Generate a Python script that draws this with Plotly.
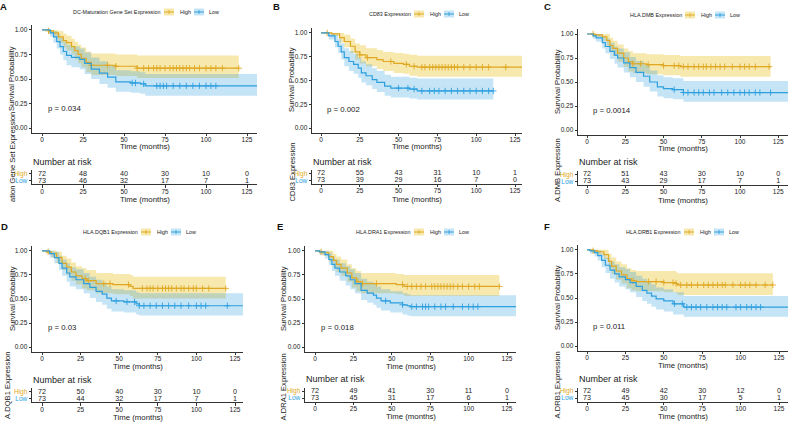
import plotly.graph_objects as go

W, H = 790, 423
FONT = "Liberation Sans, Arial, sans-serif"
HIGH_COL = "#E0A823"
LOW_COL = "#2E9FDF"
HIGH_FILL = "rgba(231,184,0,0.32)"
LOW_FILL = "rgba(46,159,223,0.28)"

time_ticks = [0, 25, 50, 75, 100, 125]
surv_ticks = [0.0, 0.25, 0.5, 0.75, 1.0]
surv_tick_labels = ["0.00", "0.25", "0.50", "0.75", "1.00"]
group_labels = ["High", "Low"]

panel_letters = ["A", "B", "C", "D", "E", "F"]
legend_titles = ["DC-Maturation Gene Set Expression", "CD83 Expression", "HLA.DMB Expression",
                 "HLA.DQB1 Expression", "HLA.DRA1 Expression", "HLA.DRB1 Expression"]
risk_axis_titles = ["ation Gene Set Expression", "CD83 Expression", "A.DMB Expression",
                    "A.DQB1 Expression", "A.DRA1 Expression", "A.DRB1 Expression"]
p_values = ["p = 0.034", "p = 0.002", "p = 0.0014", "p = 0.03", "p = 0.018", "p = 0.011"]

# ---------------- Panel A ----------------
a_high_time = [0, 4, 7, 10, 13, 15, 18, 20, 22, 24, 27, 30, 45, 58, 120]
a_high_surv = [1.00, 0.99, 0.97, 0.93, 0.89, 0.87, 0.83, 0.79, 0.75, 0.71, 0.67, 0.64, 0.63, 0.61, 0.61]
a_high_upper = [1.00, 1.00, 1.00, 0.99, 0.96, 0.94, 0.91, 0.88, 0.85, 0.82, 0.78, 0.76, 0.75, 0.74, 0.74]
a_high_lower = [1.00, 0.96, 0.93, 0.87, 0.82, 0.79, 0.75, 0.70, 0.66, 0.62, 0.57, 0.54, 0.53, 0.51, 0.51]
a_high_censor = [4, 30, 40, 45, 58, 62, 65, 68, 70, 72, 75, 78, 80, 82, 84, 86, 88, 90, 93, 96, 100, 103, 106, 110, 120]
a_low_time = [0, 5, 7, 9, 11, 13, 15, 18, 23, 26, 30, 35, 40, 45, 54, 60, 63, 133]
a_low_surv = [1.00, 0.97, 0.93, 0.88, 0.83, 0.78, 0.74, 0.72, 0.70, 0.66, 0.60, 0.56, 0.52, 0.47, 0.46, 0.45, 0.43, 0.43]
a_low_upper = [1.00, 1.00, 0.99, 0.96, 0.92, 0.88, 0.85, 0.83, 0.81, 0.77, 0.72, 0.68, 0.64, 0.59, 0.58, 0.57, 0.55, 0.55]
a_low_lower = [1.00, 0.93, 0.87, 0.81, 0.75, 0.69, 0.64, 0.62, 0.60, 0.55, 0.50, 0.45, 0.41, 0.37, 0.36, 0.35, 0.33, 0.33]
a_low_censor = [55, 57, 62, 70, 72, 74, 76, 80, 84, 88, 92, 96, 100, 103, 106]
a_risk_high = [72, 48, 40, 30, 10, 0]
a_risk_low = [73, 46, 32, 17, 7, 1]

# ---------------- Panel B ----------------
b_high_time = [0, 7, 12, 15, 19, 22, 25, 29, 36, 40, 47, 53, 57, 62, 133]
b_high_surv = [1.00, 0.99, 0.95, 0.91, 0.86, 0.80, 0.77, 0.74, 0.72, 0.70, 0.68, 0.67, 0.65, 0.64, 0.64]
b_high_upper = [1.00, 1.00, 1.00, 0.98, 0.94, 0.89, 0.87, 0.84, 0.82, 0.80, 0.79, 0.78, 0.77, 0.76, 0.76]
b_high_lower = [1.00, 0.97, 0.90, 0.85, 0.79, 0.72, 0.68, 0.65, 0.62, 0.60, 0.58, 0.57, 0.55, 0.54, 0.54]
b_high_censor = [4, 25, 30, 45, 55, 60, 65, 67, 70, 72, 74, 76, 78, 80, 82, 84, 86, 88, 92, 96, 100, 104, 108, 119]
b_low_time = [0, 5, 9, 11, 13, 15, 18, 21, 24, 26, 29, 33, 36, 41, 45, 57, 62, 111]
b_low_surv = [1.00, 0.97, 0.91, 0.86, 0.80, 0.74, 0.70, 0.67, 0.63, 0.58, 0.55, 0.51, 0.48, 0.44, 0.42, 0.41, 0.39, 0.39]
b_low_upper = [1.00, 1.00, 0.98, 0.94, 0.89, 0.84, 0.81, 0.78, 0.74, 0.70, 0.67, 0.63, 0.60, 0.56, 0.54, 0.53, 0.52, 0.52]
b_low_lower = [1.00, 0.93, 0.85, 0.79, 0.72, 0.65, 0.60, 0.57, 0.53, 0.48, 0.45, 0.41, 0.38, 0.34, 0.32, 0.31, 0.30, 0.30]
b_low_censor = [50, 56, 60, 65, 70, 73, 76, 80, 84, 88, 92, 96, 100, 104, 108, 111]
b_risk_high = [72, 55, 43, 31, 10, 1]
b_risk_low = [73, 39, 29, 16, 7, 0]

# ---------------- Panel C ----------------
c_high_time = [0, 5, 10, 13, 15, 17, 20, 24, 27, 30, 39, 50, 61, 120]
c_high_surv = [1.00, 0.99, 0.97, 0.93, 0.88, 0.85, 0.80, 0.75, 0.71, 0.69, 0.68, 0.67, 0.66, 0.66]
c_high_upper = [1.00, 1.00, 1.00, 1.00, 0.96, 0.93, 0.89, 0.85, 0.82, 0.80, 0.79, 0.78, 0.77, 0.77]
c_high_lower = [1.00, 0.97, 0.93, 0.87, 0.81, 0.77, 0.71, 0.66, 0.61, 0.59, 0.58, 0.57, 0.555, 0.555]
c_high_censor = [4, 30, 35, 40, 50, 57, 60, 63, 66, 70, 73, 76, 78, 81, 84, 87, 90, 95, 100, 103, 106, 110, 119]
c_low_time = [0, 4, 6, 10, 12, 15, 18, 20, 24, 28, 32, 37, 41, 46, 50, 56, 63, 133]
c_low_surv = [1.00, 0.98, 0.96, 0.91, 0.87, 0.82, 0.78, 0.75, 0.70, 0.65, 0.60, 0.56, 0.50, 0.45, 0.43, 0.42, 0.39, 0.39]
c_low_upper = [1.00, 1.00, 1.00, 0.98, 0.95, 0.91, 0.87, 0.85, 0.81, 0.76, 0.72, 0.68, 0.62, 0.57, 0.55, 0.54, 0.51, 0.51]
c_low_lower = [1.00, 0.95, 0.92, 0.85, 0.80, 0.74, 0.69, 0.65, 0.60, 0.55, 0.50, 0.45, 0.40, 0.35, 0.33, 0.32, 0.295, 0.295]
c_low_censor = [57, 63, 66, 70, 73, 76, 80, 83, 88, 92, 96, 100, 103, 106, 110, 113, 120]
c_risk_high = [72, 51, 43, 30, 10, 0]
c_risk_low = [73, 43, 29, 17, 7, 1]

# ---------------- Panel D ----------------
d_high_time = [0, 3, 6, 9.5, 13, 16, 19, 22, 26, 29, 35, 46, 57, 59, 119]
d_high_surv = [1.00, 0.99, 0.97, 0.93, 0.87, 0.83, 0.78, 0.74, 0.71, 0.69, 0.66, 0.65, 0.63, 0.61, 0.61]
d_high_upper = [1.00, 1.00, 1.00, 0.99, 0.95, 0.92, 0.88, 0.84, 0.82, 0.80, 0.77, 0.76, 0.75, 0.73, 0.73]
d_high_lower = [1.00, 0.97, 0.93, 0.87, 0.80, 0.75, 0.69, 0.65, 0.61, 0.59, 0.56, 0.55, 0.53, 0.505, 0.505]
d_high_censor = [4, 28, 30, 40, 44, 56, 65, 68, 70, 72, 75, 78, 80, 82, 84, 87, 90, 92, 95, 98, 100, 104, 108, 119]
d_low_time = [0, 5, 8, 11, 13, 16, 18, 22, 27, 31, 35, 39, 42, 45, 53, 61, 63, 133]
d_low_surv = [1.00, 0.97, 0.93, 0.87, 0.82, 0.77, 0.73, 0.70, 0.66, 0.62, 0.58, 0.55, 0.51, 0.48, 0.47, 0.45, 0.43, 0.43]
d_low_upper = [1.00, 1.00, 0.99, 0.95, 0.91, 0.87, 0.83, 0.81, 0.77, 0.73, 0.70, 0.67, 0.63, 0.60, 0.59, 0.57, 0.56, 0.56]
d_low_lower = [1.00, 0.93, 0.87, 0.80, 0.74, 0.68, 0.63, 0.60, 0.56, 0.51, 0.47, 0.44, 0.40, 0.37, 0.36, 0.34, 0.33, 0.33]
d_low_censor = [48, 55, 60, 63, 66, 70, 74, 78, 82, 86, 90, 95, 100, 103, 106, 120]
d_risk_high = [72, 50, 40, 30, 10, 0]
d_risk_low = [73, 44, 32, 17, 7, 1]

# ---------------- Panel E ----------------
e_high_time = [0, 3, 5, 9, 12, 14, 17, 21, 24, 27, 30, 53, 58, 120]
e_high_surv = [1.00, 0.99, 0.98, 0.94, 0.90, 0.86, 0.82, 0.77, 0.72, 0.68, 0.66, 0.65, 0.63, 0.63]
e_high_upper = [1.00, 1.00, 1.00, 1.00, 0.97, 0.94, 0.91, 0.86, 0.82, 0.79, 0.77, 0.76, 0.75, 0.75]
e_high_lower = [1.00, 0.97, 0.95, 0.89, 0.83, 0.78, 0.74, 0.68, 0.62, 0.58, 0.56, 0.55, 0.53, 0.53]
e_high_censor = [4, 28, 31, 40, 57, 60, 63, 66, 69, 72, 76, 78, 80, 82, 84, 86, 88, 90, 93, 96, 100, 104, 107, 120]
e_low_time = [0, 3, 6.5, 9, 11, 13, 16, 20, 23, 26, 30, 34, 38, 40, 43, 49, 57, 60, 62, 133]
e_low_surv = [1.00, 0.99, 0.96, 0.91, 0.86, 0.82, 0.78, 0.74, 0.70, 0.66, 0.59, 0.56, 0.54, 0.51, 0.48, 0.46, 0.44, 0.43, 0.42, 0.42]
e_low_upper = [1.00, 1.00, 1.00, 0.98, 0.94, 0.91, 0.87, 0.84, 0.81, 0.77, 0.71, 0.68, 0.66, 0.63, 0.60, 0.58, 0.56, 0.55, 0.54, 0.54]
e_low_lower = [1.00, 0.96, 0.92, 0.85, 0.79, 0.74, 0.69, 0.64, 0.60, 0.56, 0.49, 0.46, 0.44, 0.41, 0.38, 0.36, 0.34, 0.33, 0.32, 0.32]
e_low_censor = [46, 57, 63, 66, 70, 72, 74, 78, 82, 85, 90, 96, 100, 103, 106]
e_risk_high = [72, 49, 41, 30, 11, 0]
e_risk_low = [73, 45, 31, 17, 6, 1]

# ---------------- Panel F ----------------
f_high_time = [0, 4, 7, 11, 14, 16, 19, 22.5, 26, 29, 32, 50, 58, 59, 121]
f_high_surv = [1.00, 0.99, 0.98, 0.95, 0.88, 0.83, 0.78, 0.74, 0.70, 0.68, 0.67, 0.66, 0.65, 0.635, 0.635]
f_high_upper = [1.00, 1.00, 1.00, 1.00, 0.96, 0.92, 0.88, 0.85, 0.81, 0.79, 0.78, 0.78, 0.77, 0.757, 0.757]
f_high_lower = [1.00, 0.97, 0.95, 0.90, 0.81, 0.75, 0.69, 0.65, 0.60, 0.58, 0.57, 0.56, 0.55, 0.53, 0.53]
f_high_censor = [4, 30, 40, 45, 50, 56, 58, 61, 65, 68, 72, 76, 79, 82, 85, 88, 90, 95, 100, 103, 106, 110, 116, 121]
f_low_time = [0, 2, 5, 7, 9.5, 12, 15, 18, 21, 25, 28, 32, 36, 39, 42, 45, 50, 56, 63, 133]
f_low_surv = [1.00, 0.99, 0.97, 0.94, 0.89, 0.84, 0.79, 0.75, 0.72, 0.69, 0.66, 0.62, 0.58, 0.55, 0.52, 0.49, 0.47, 0.44, 0.405, 0.405]
f_low_upper = [1.00, 1.00, 1.00, 0.99, 0.96, 0.92, 0.88, 0.85, 0.82, 0.80, 0.77, 0.73, 0.70, 0.67, 0.64, 0.61, 0.59, 0.56, 0.52, 0.52]
f_low_lower = [1.00, 0.96, 0.93, 0.89, 0.82, 0.76, 0.70, 0.66, 0.62, 0.59, 0.56, 0.51, 0.47, 0.44, 0.41, 0.38, 0.36, 0.33, 0.305, 0.305]
f_low_censor = [57, 62, 65, 68, 71, 74, 78, 82, 85, 88, 91, 97, 100, 104, 107, 110, 113]
f_risk_high = [72, 49, 42, 30, 12, 0]
f_risk_low = [73, 45, 30, 17, 5, 1]

panels_data = [
    (a_high_time, a_high_surv, a_high_lower, a_high_upper, a_high_censor,
     a_low_time, a_low_surv, a_low_lower, a_low_upper, a_low_censor, a_risk_high, a_risk_low),
    (b_high_time, b_high_surv, b_high_lower, b_high_upper, b_high_censor,
     b_low_time, b_low_surv, b_low_lower, b_low_upper, b_low_censor, b_risk_high, b_risk_low),
    (c_high_time, c_high_surv, c_high_lower, c_high_upper, c_high_censor,
     c_low_time, c_low_surv, c_low_lower, c_low_upper, c_low_censor, c_risk_high, c_risk_low),
    (d_high_time, d_high_surv, d_high_lower, d_high_upper, d_high_censor,
     d_low_time, d_low_surv, d_low_lower, d_low_upper, d_low_censor, d_risk_high, d_risk_low),
    (e_high_time, e_high_surv, e_high_lower, e_high_upper, e_high_censor,
     e_low_time, e_low_surv, e_low_lower, e_low_upper, e_low_censor, e_risk_high, e_risk_low),
    (f_high_time, f_high_surv, f_high_lower, f_high_upper, f_high_censor,
     f_low_time, f_low_surv, f_low_lower, f_low_upper, f_low_censor, f_risk_high, f_risk_low),
]

# ---------------- Layout geometry (pixels) ----------------
geom = [
    dict(l=32, r=257, x0=42, ppm=1.64, kt=25, kb=133, rt=170.3, rb=184.3,
         lab=(3, 6), leg=(163, 12), sp=(12, 79), rtx=12, rty=204),
    dict(l=312, r=522, x0=321, ppm=1.552, kt=28.2, kb=132.8, rt=170, rb=184,
         lab=(276, 6), leg=(413, 14), sp=(291, 80), rtx=292, rty=204),
    dict(l=578, r=788, x0=587, ppm=1.53, kt=29.2, kb=134.8, rt=171, rb=185,
         lab=(547, 6), leg=(684, 15), sp=(557, 82), rtx=557, rty=204),
    dict(l=32, r=243, x0=42, ppm=1.544, kt=246, kb=352, rt=388.3, rb=402.3,
         lab=(4, 226), leg=(140, 232), sp=(12, 299), rtx=7, rty=421),
    dict(l=305, r=516, x0=315, ppm=1.536, kt=246, kb=352, rt=387.7, rb=401.7,
         lab=(280, 226), leg=(413, 232), sp=(283, 299), rtx=283, rty=423),
    dict(l=578, r=788, x0=587, ppm=1.536, kt=245, kb=351, rt=387.7, rb=401.7,
         lab=(547, 226), leg=(683, 232), sp=(557, 298), rtx=557, rty=421),
]


def fx(p):
    return p / W


def fy(p):
    return 1 - p / H


def step_value(times, vals, t):
    v = vals[0]
    for ti, vi in zip(times, vals):
        if ti <= t:
            v = vi
    return v


fig = go.Figure()
layout = dict(
    width=W, height=H, margin=dict(l=0, r=0, t=0, b=0),
    paper_bgcolor="white", plot_bgcolor="white", showlegend=False,
    font=dict(family=FONT, color="#222222"),
)
annotations = []
shapes = []

axis_common = dict(showgrid=False, zeroline=False, showline=True, linecolor="#333333", linewidth=0.8,
                   ticks="outside", ticklen=2.5, tickwidth=0.7, tickcolor="#333333",
                   tickfont=dict(size=6.5, family=FONT, color="#222222"), automargin=False)

for i, (g, data) in enumerate(zip(geom, panels_data)):
    (ht, hs, hl, hu, hc, lt, ls, ll, lu, lc, rh, rl) = data
    kx = 2 * i + 1
    rx = 2 * i + 2
    kxn = "x" if kx == 1 else f"x{kx}"
    kyn = "y" if kx == 1 else f"y{kx}"
    rxn = f"x{rx}"
    ryn = f"y{rx}"
    xr = [(g["l"] - g["x0"]) / g["ppm"], (g["r"] - g["x0"]) / g["ppm"]]

    # ---- confidence bands ----
    for (t, lo, up, fill) in [(ht, hl, hu, HIGH_FILL), (lt, ll, lu, LOW_FILL)]:
        fig.add_trace(go.Scatter(x=t, y=lo, mode="lines", line=dict(width=0, shape="hv"),
                                 hoverinfo="skip", xaxis=kxn, yaxis=kyn))
        fig.add_trace(go.Scatter(x=t, y=up, mode="lines", line=dict(width=0, shape="hv"),
                                 fill="tonexty", fillcolor=fill, hoverinfo="skip",
                                 xaxis=kxn, yaxis=kyn))
    # ---- survival curves + censor marks ----
    for (t, s, cen, col) in [(ht, hs, hc, HIGH_COL), (lt, ls, lc, LOW_COL)]:
        fig.add_trace(go.Scatter(x=t, y=s, mode="lines", line=dict(width=1.2, shape="hv", color=col),
                                 xaxis=kxn, yaxis=kyn))
        cy = [step_value(t, s, c) for c in cen]
        fig.add_trace(go.Scatter(x=cen, y=cy, mode="markers",
                                 marker=dict(symbol="cross-thin", size=4.5, color=col,
                                             line=dict(width=0.9, color=col)),
                                 xaxis=kxn, yaxis=kyn))

    # ---- risk table numbers ----
    fig.add_trace(go.Scatter(x=time_ticks, y=[2] * len(time_ticks), mode="text",
                             text=[str(v) for v in rh], textfont=dict(size=7.2, family=FONT, color="#222222"),
                             cliponaxis=False, xaxis=rxn, yaxis=ryn))
    fig.add_trace(go.Scatter(x=time_ticks, y=[1] * len(time_ticks), mode="text",
                             text=[str(v) for v in rl], textfont=dict(size=7.2, family=FONT, color="#222222"),
                             cliponaxis=False, xaxis=rxn, yaxis=ryn))

    kxa = "xaxis" if kx == 1 else f"xaxis{kx}"
    kya = "yaxis" if kx == 1 else f"yaxis{kx}"
    layout[kxa] = dict(axis_common, domain=[fx(g["l"]), fx(g["r"])], range=xr,
                       tickvals=time_ticks, anchor=kyn, ticklabelstandoff=-2)
    layout[kya] = dict(axis_common, domain=[fy(g["kb"]), fy(g["kt"])], range=[-0.05, 1.05],
                       tickvals=surv_ticks, ticktext=surv_tick_labels, anchor=kxn)
    layout[f"xaxis{rx}"] = dict(axis_common, domain=[fx(g["l"]), fx(g["r"])], range=xr,
                                tickvals=time_ticks, anchor=ryn, ticklabelstandoff=-2)
    layout[f"yaxis{rx}"] = dict(axis_common, domain=[fy(g["rb"]), fy(g["rt"])], range=[0.5, 2.5],
                                tickvals=[2, 1],
                                ticktext=[f"<span style='color:{HIGH_COL}'>{group_labels[0]}</span>",
                                          f"<span style='color:{LOW_COL}'>{group_labels[1]}</span>"],
                                anchor=rxn)

    # ---- text annotations ----
    cx = (g["l"] + g["r"]) / 2
    annotations.append(dict(text="Time (months)", x=fx(cx), y=fy(g["kb"] + 14), xref="paper", yref="paper",
                            showarrow=False, xanchor="center", yanchor="middle",
                            font=dict(size=7.8, family=FONT, color="#222222")))
    annotations.append(dict(text="Time (months)", x=fx(cx), y=fy(g["rb"] + 15), xref="paper", yref="paper",
                            showarrow=False, xanchor="center", yanchor="middle",
                            font=dict(size=7.8, family=FONT, color="#222222")))
    annotations.append(dict(text="Number at risk", x=fx(g["l"] - 1), y=fy(g["rt"] - 8.5), xref="paper",
                            yref="paper", showarrow=False, xanchor="left", yanchor="middle",
                            font=dict(size=9, family=FONT, color="#222222")))
    annotations.append(dict(text=p_values[i], x=2.6, y=0.2, xref=kxn, yref=kyn, showarrow=False,
                            xanchor="left", yanchor="middle", font=dict(size=7.8, family=FONT, color="#222222")))
    annotations.append(dict(text="Survival Probability", x=fx(g["sp"][0]), y=fy(g["sp"][1]), xref="paper",
                            yref="paper", showarrow=False, textangle=-90, xanchor="center", yanchor="middle",
                            font=dict(size=7.6, family=FONT, color="#222222")))
    annotations.append(dict(text=risk_axis_titles[i], x=fx(g["rtx"]), y=fy(g["rty"]), xref="paper",
                            yref="paper", showarrow=False, textangle=-90, xanchor="center",
                            yanchor="bottom", font=dict(size=7.6, family=FONT, color="#222222")))
    annotations.append(dict(text=f"<b>{panel_letters[i]}</b>", x=fx(g["lab"][0]), y=fy(g["lab"][1]),
                            xref="paper", yref="paper", showarrow=False, xanchor="center", yanchor="middle",
                            font=dict(size=9.5, family=FONT, color="#111111")))

    # ---- legend (title + two keys) ----
    lx, ly = g["leg"]
    annotations.append(dict(text=legend_titles[i], x=fx(lx), y=fy(ly), xref="paper", yref="paper",
                            showarrow=False, xanchor="right", yanchor="middle",
                            font=dict(size=5.4, family=FONT, color="#222222")))
    for k0, txt, col, fill, tx0 in [(1, group_labels[0], HIGH_COL, HIGH_FILL, 15),
                                     (31, group_labels[1], LOW_COL, LOW_FILL, 44)]:
        shapes.append(dict(type="rect", xref="paper", yref="paper", x0=fx(lx + k0), x1=fx(lx + k0 + 10),
                           y0=fy(ly + 3.5), y1=fy(ly - 3.5), fillcolor=fill, line=dict(width=0)))
        shapes.append(dict(type="line", xref="paper", yref="paper", x0=fx(lx + k0), x1=fx(lx + k0 + 10),
                           y0=fy(ly), y1=fy(ly), line=dict(width=1, color=col)))
        shapes.append(dict(type="line", xref="paper", yref="paper", x0=fx(lx + k0 + 5), x1=fx(lx + k0 + 5),
                           y0=fy(ly - 2), y1=fy(ly + 2), line=dict(width=0.8, color=col)))
        annotations.append(dict(text=txt, x=fx(lx + tx0), y=fy(ly), xref="paper", yref="paper",
                                showarrow=False, xanchor="left", yanchor="middle",
                                font=dict(size=5.4, family=FONT, color="#222222")))

layout["annotations"] = annotations
layout["shapes"] = shapes
fig.update_layout(**layout)
fig.write_html("out.html")
